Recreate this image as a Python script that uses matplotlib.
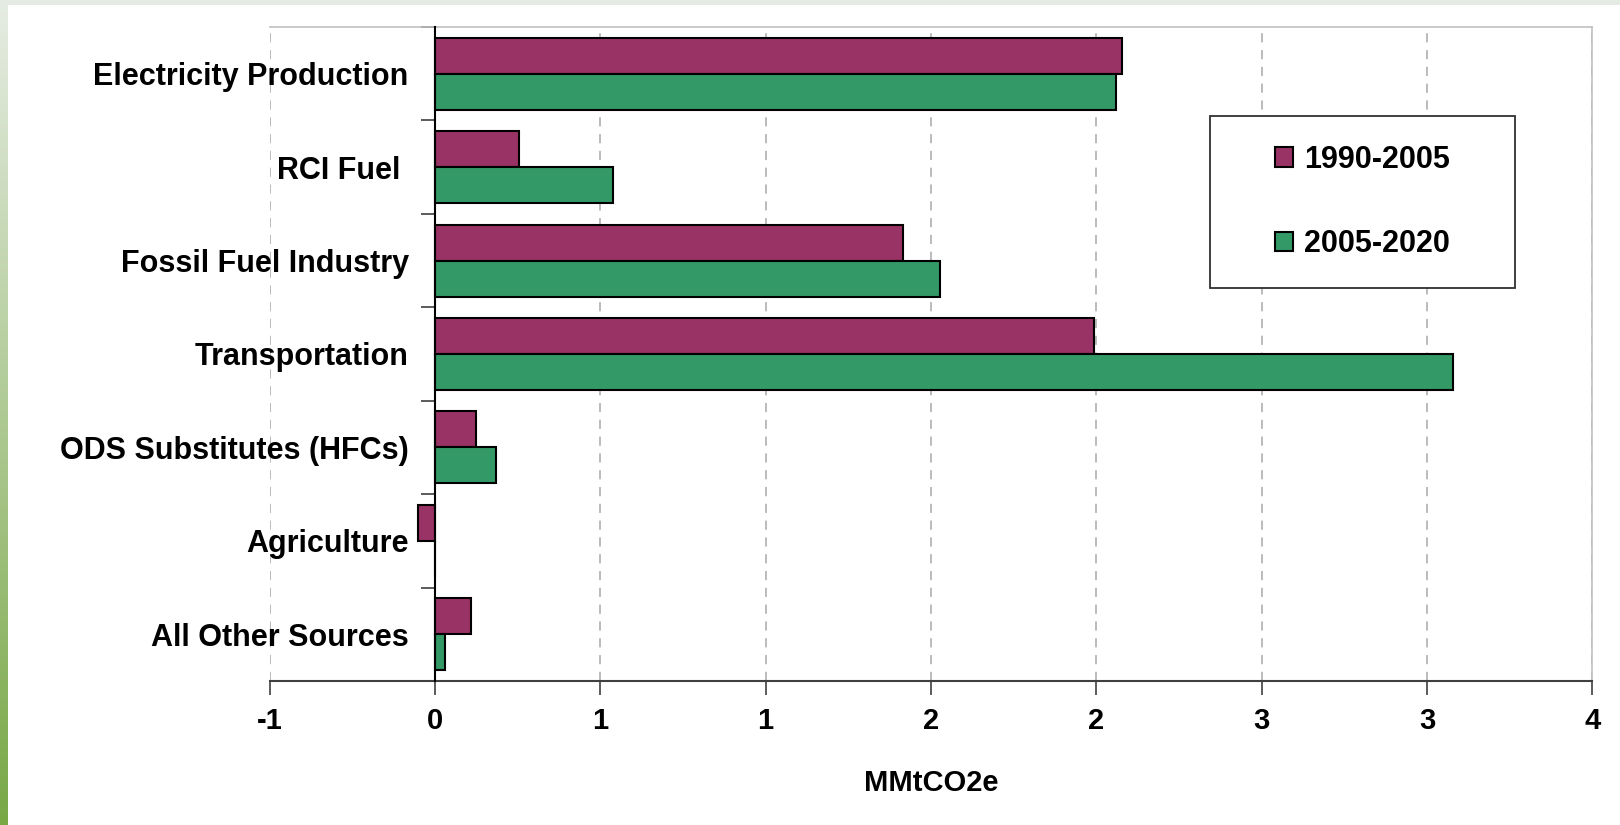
#!/usr/bin/env python3
"""
Horizontal bar chart of emission changes by sector (MMtCO2e),
two periods side by side, Excel-style look.
"""
import numpy as np
import matplotlib.pyplot as plt
from matplotlib.patches import Rectangle, Patch

categories = [
    "Electricity Production",
    "RCI Fuel ",
    "Fossil Fuel Industry",
    "Transportation",
    "ODS Substitutes (HFCs)",
    "Agriculture",
    "All Other Sources",
]
change_1990_2005 = [2.077, 0.253, 1.416, 1.994, 0.125, -0.053, 0.109]
change_2005_2020 = [2.059, 0.538, 1.528, 3.079, 0.184, 0.0, 0.031]
series_labels = ["1990-2005", "2005-2020"]
xtick_values = [-0.5, 0, 0.5, 1, 1.5, 2, 2.5, 3, 3.5]
xtick_labels = ["-1", "0", "1", "1", "2", "2", "3", "3", "4"]
x_title = "MMtCO2e"

PURPLE = "#993366"
GREEN = "#339966"
W, H = 1620, 825


def main():
    plt.rcParams["font.family"] = ["Liberation Sans", "DejaVu Sans"]
    plt.rcParams["font.weight"] = "bold"

    fig = plt.figure(figsize=(W / 100, H / 100), dpi=100)
    fig.patch.set_facecolor("white")

    # slide decoration: green gradient strip on the left, pale band at top
    strip = fig.add_axes([0, 0, 8 / W, 1])
    top_c = np.array([230, 236, 227]) / 255
    bot_c = np.array([120, 168, 70]) / 255
    t = np.linspace(0, 1, 200)[:, None, None]
    strip.imshow(top_c + (bot_c - top_c) * t, aspect="auto")
    strip.axis("off")
    fig.add_artist(Rectangle((0, 1 - 5 / H), 1, 5 / H, transform=fig.transFigure,
                             color="#e4ebe2", lw=0))

    ax = fig.add_axes([269.7 / W, 1 - 681 / H, (1592.3 - 269.7) / W, (681 - 27) / H])

    y = np.arange(len(categories))
    h = 0.385
    ax.barh(y - h / 2, change_1990_2005, height=h, color=PURPLE,
            edgecolor="black", linewidth=1.5, zorder=3)
    ax.barh(y + h / 2, change_2005_2020, height=h, color=GREEN,
            edgecolor="black", linewidth=1.5, zorder=3)

    ax.set_xlim(-0.5, 3.5)
    ax.set_ylim(len(categories) - 0.5, -0.5)

    # x axis
    ax.set_xticks(xtick_values)
    ax.set_xticklabels(xtick_labels, fontsize=21, fontweight="bold")
    ax.tick_params(axis="x", direction="out", length=10, width=1.2,
                   color="#404040", pad=9)
    ax.grid(axis="x", linestyle=(0, (6, 5)), color="#a8a8a8", lw=1.1, zorder=0)
    ax.set_axisbelow(True)
    ax.set_xlabel(x_title, fontsize=21, fontweight="bold")
    ax.xaxis.label.set_va("center")
    ax.xaxis.set_label_coords(0.5, -0.156)

    # y axis crosses at zero; ticks at band edges, labels at centres
    ax.spines["left"].set_position(("data", 0))
    ax.spines["left"].set_color("black")
    ax.spines["left"].set_linewidth(1.5)
    ax.spines["left"].set_zorder(4)
    ax.set_yticks(np.arange(len(categories) + 1) - 0.5)
    ax.set_yticklabels([])
    ax.set_yticks(y, minor=True)
    ax.set_yticklabels(categories, minor=True, fontsize=22, fontweight="bold")
    ax.tick_params(axis="y", which="major", direction="out", length=10,
                   width=1.2, color="#404040")
    ax.tick_params(axis="y", which="minor", length=0, pad=19)

    ax.spines["bottom"].set_color("#404040")
    ax.spines["bottom"].set_linewidth(1.5)
    for side in ("top", "right"):
        ax.spines[side].set_color("#c0c0c0")
        ax.spines[side].set_linewidth(1.2)

    # legend with a fixed-size box
    lx0, lx1, ly0, ly1 = 1210, 1515, 116, 288
    fig.add_artist(Rectangle((lx0 / W, 1 - ly1 / H), (lx1 - lx0) / W, (ly1 - ly0) / H,
                             transform=fig.transFigure, facecolor="white",
                             edgecolor="#303030", lw=1.3, zorder=5))
    handles = [Patch(facecolor=PURPLE, edgecolor="black", lw=1.5),
               Patch(facecolor=GREEN, edgecolor="black", lw=1.5)]
    leg = fig.legend(handles, series_labels, loc="center",
                     bbox_to_anchor=((lx0 + lx1) / 2 / W, 1 - (ly0 + ly1) / 2 / H),
                     bbox_transform=fig.transFigure, frameon=False,
                     prop={"size": 22, "weight": "bold"}, handlelength=0.6,
                     handleheight=0.6, handletextpad=0.35, labelspacing=1.78,
                     borderpad=0)
    leg.set_zorder(6)

    fig.savefig("out.png", dpi=100)


if __name__ == "__main__":
    main()
